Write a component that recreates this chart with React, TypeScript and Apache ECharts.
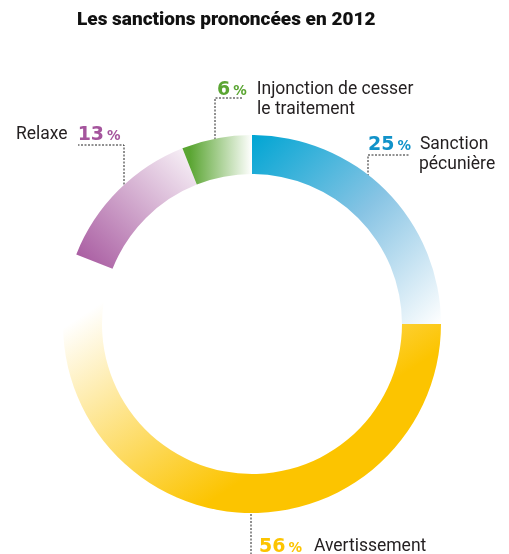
import React, { useEffect, useRef } from 'react';
import * as echarts from 'echarts';

const title = 'Les sanctions prononcées en 2012';
const categories = ['Sanction pécunière', 'Avertissement', 'Relaxe', 'Injonction de cesser le traitement'];
const values = [25, 56, 13, 6];
const labelTextLines = [['Sanction', 'pécunière'], ['Avertissement'], ['Relaxe'], ['Injonction de cesser', 'le traitement']];
const sliceColors = ['#00a5d3', '#fcc400', '#a5559d', '#5aa532'];
const pctColors = ['#1192c9', '#fcc400', '#a5559d', '#5aa532'];

export default function App() {
  const ref = useRef<HTMLDivElement>(null);
  useEffect(() => {
    if (!ref.current) return;
    const chart = echarts.init(ref.current, undefined, { renderer: 'svg' });

    // gradients in chart pixel space (style only)
    const g = (x: number, y: number, x2: number, y2: number, stops: [number, string][]) => ({
      type: 'linear', x, y, x2, y2, global: true,
      colorStops: stops.map(([offset, color]) => ({ offset, color })),
    });
    const gradients = [
      g(252, 135, 441, 324, [[0, sliceColors[0]], [0.5, '#88c4e4'], [1, '#ffffff']]),
      g(205, 505, 70, 300, [[0, sliceColors[1]], [0.92, '#ffffff'], [1, '#ffffff']]),
      g(77, 269, 197, 148, [[0, sliceColors[2]], [1, '#fbf8fb']]),
      g(183, 160, 252, 160, [[0.1, sliceColors[3]], [1, '#ffffff']]),
    ];

    // label placement (layout only)
    const placements = [
      { x: 368, y: 132, line: [[368, 197], [368, 155], [410, 155]] },
      { x: 259, y: 534, line: [[251, 493], [251, 520], [251, 560]] },
      { x: 16, y: 122, line: [[124, 216], [124, 145], [78, 145]] },
      { x: 217, y: 77, line: [[215, 157], [215, 98], [243, 98]] },
    ];
    const gapAfterPct = [9, 12, 0, 10];
    const secondLineIndent = [51, 0, 0, 40];

    const textFont = 'Roboto, "Noto Sans", sans-serif';
    const numFont = '"DejaVu Sans", sans-serif';
    const rich: any = {
      t: { fontFamily: textFont, fontSize: 17.5, color: '#231f20', lineHeight: 20, verticalAlign: 'bottom' },
      tr: { fontFamily: textFont, fontSize: 17.5, color: '#231f20', lineHeight: 20, verticalAlign: 'bottom', padding: [0, 10, 0, 0] },
    };
    values.forEach((_, i) => {
      rich['n' + i] = { fontFamily: numFont, fontWeight: 'bold', fontSize: 19, color: pctColors[i], lineHeight: 20, verticalAlign: 'bottom' };
      rich['p' + i] = { fontFamily: numFont, fontWeight: 'bold', fontSize: 13.5, color: pctColors[i], lineHeight: 16, verticalAlign: 'bottom', padding: [0, gapAfterPct[i], 0, 3] };
      rich['s' + i] = { fontSize: 10, width: secondLineIndent[i], lineHeight: 20 };
    });

    const formatters = values.map((v, i) => {
      const lines = labelTextLines[i];
      if (i === 2) return `{tr|${lines[0]}}{n${i}|${v}}{p${i}|%}`;
      let s = `{n${i}|${v}}{p${i}|%}{t|${lines[0]}}`;
      for (let k = 1; k < lines.length; k++) s += `\n{s${i}| }{t|${lines[k]}}`;
      return s;
    });

    chart.setOption({
      animation: false,
      title: {
        text: title,
        left: 77,
        top: 9,
        padding: 0,
        textStyle: { fontFamily: 'Roboto, sans-serif', fontWeight: 900, fontSize: 19, color: '#111' },
      },
      series: [
        {
          type: 'pie',
          center: [252, 324],
          radius: [150, 189],
          startAngle: 90,
          clockwise: true,
          avoidLabelOverlap: false,
          emphasis: { disabled: true },
          label: { show: true, position: 'outside', color: '#231f20', rich },
          labelLine: { show: true, smooth: false, length: 10, length2: 10, lineStyle: { color: '#222', width: 1, type: [2, 1.5] } },
          labelLayout: (params: any) => {
            const p = placements[params.dataIndex];
            return { x: p.x, y: p.y, align: 'left', verticalAlign: 'top', labelLinePoints: p.line, hideOverlap: false };
          },
          data: values.map((v, i) => ({
            value: v,
            name: categories[i],
            itemStyle: { color: gradients[i] },
            label: { formatter: formatters[i] },
          })),
        },
      ],
    });
    return () => chart.dispose();
  }, []);
  return <div ref={ref} style={{ position: 'fixed', left: 0, top: 0, width: 509, height: 554 }} />;
}
